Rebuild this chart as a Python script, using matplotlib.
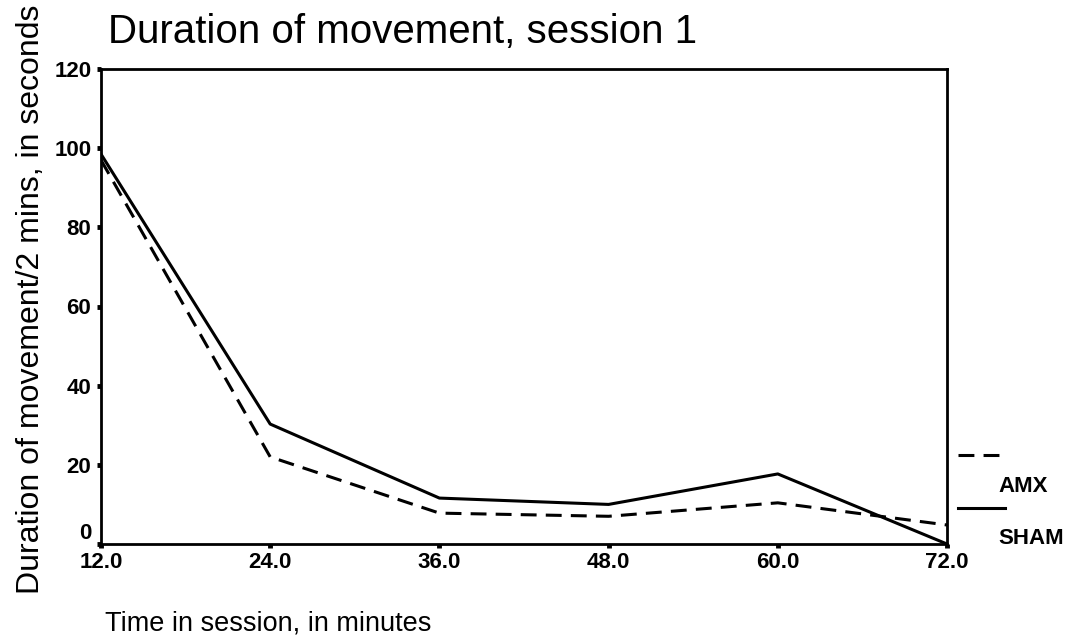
import matplotlib
matplotlib.use("Agg")
import matplotlib.pyplot as plt
from matplotlib.lines import Line2D

plt.rcParams['font.family'] = ['Liberation Sans', 'DejaVu Sans']

# minutes into the session
minutes = [12.0, 24.0, 36.0, 48.0, 60.0, 72.0]
# movement duration per 2-minute bin (seconds)
amx = [97.0, 22.0, 7.8, 7.0, 10.4, 4.8]
sham = [98.5, 30.3, 11.6, 10.0, 17.7, 0.0]
xtick_labels = ['12.0', '24.0', '36.0', '48.0', '60.0', '72.0']
yticks = [0, 20, 40, 60, 80, 100, 120]

W, H = 1073, 639
DASH = (0, (5.2, 3.0))

fig = plt.figure(figsize=(W / 100, H / 100), dpi=100)
ax = fig.add_axes([101 / W, 1 - 544 / H, 846 / W, 475 / H])

ax.plot(minutes, amx, color='black', lw=2.2, linestyle=DASH)
ax.plot(minutes, sham, color='black', lw=2.2)

ax.set_xlim(12, 72)
ax.set_ylim(0, 120)
ax.set_xticks(minutes)
ax.set_xticklabels(xtick_labels)
ax.set_yticks(yticks)
for s in ax.spines.values():
    s.set_linewidth(2.0)
ax.tick_params(axis='both', direction='out', length=3, width=3.5, labelsize=16)
ax.tick_params(axis='x', pad=3)
ax.tick_params(axis='y', pad=4)
for lbl in ax.get_xticklabels() + ax.get_yticklabels():
    lbl.set_fontweight('bold')
# lift the zero label so it sits on the axis line, clear of "12.0"
ax.get_yticklabels()[0].set_verticalalignment('bottom')

fig.text(108 / W, 1 - 43 / H, 'Duration of movement, session 1', fontsize=29,
         ha='left', va='baseline')
fig.text(105 / W, 1 - 630 / H, 'Time in session, in minutes', fontsize=19.5,
         ha='left', va='baseline')
fig.text(31 / W, 1 - 299 / H, 'Duration of movement/2 mins, in seconds', fontsize=23,
         rotation=90, ha='center', va='center')

# key to the right of the axes
fig.add_artist(Line2D([958 / W, 1005 / W], [1 - 455 / H] * 2, color='black',
                      lw=2.2, linestyle=DASH))
fig.text(998 / W, 1 - 486 / H, 'AMX', fontsize=16, fontweight='bold', ha='left', va='center')
fig.add_artist(Line2D([958 / W, 1005 / W], [1 - 508 / H] * 2, color='black', lw=2.2))
fig.text(998 / W, 1 - 538 / H, 'SHAM', fontsize=16, fontweight='bold', ha='left', va='center')

fig.savefig('out.png', dpi=100)
